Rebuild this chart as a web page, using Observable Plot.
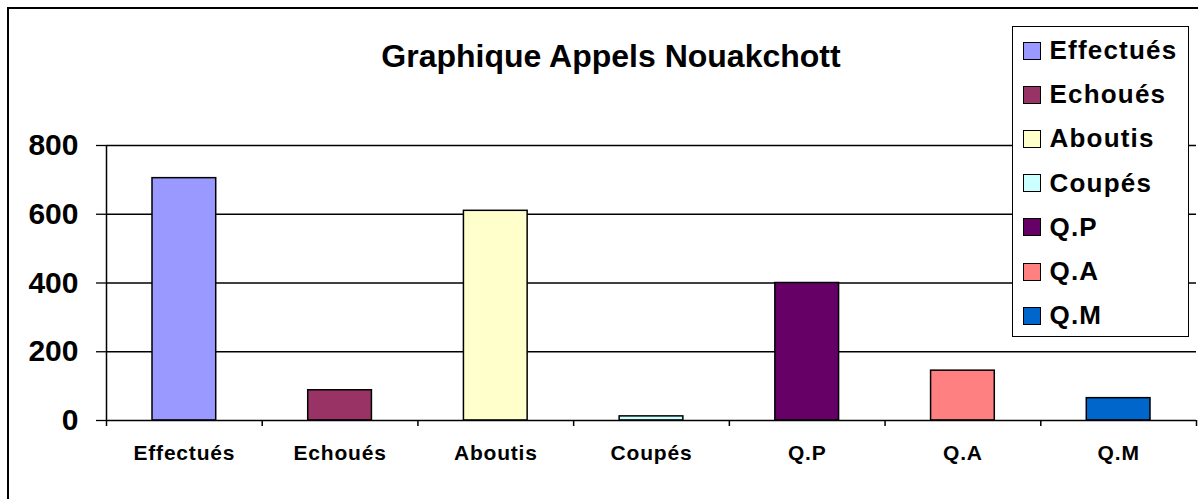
<!DOCTYPE html>
<html>
<head>
<meta charset="utf-8">
<script src="https://cdn.jsdelivr.net/npm/d3@7"></script>
<script src="https://cdn.jsdelivr.net/npm/@observablehq/plot@0.6"></script>
<style>
  html, body { margin: 0; padding: 0; background: #fff; }
  #wrap { position: relative; width: 1198px; height: 499px; overflow: hidden; font-family: "Liberation Sans", Arial, sans-serif; }
  #chart { position: absolute; left: 0; top: 0; }
  #frame { position: absolute; left: 7px; top: 7px; width: 1300px; height: 600px; border-left: 2.5px solid #000; border-top: 2.5px solid #000; box-sizing: border-box; pointer-events: none; }
  #title { position: absolute; left: 311px; width: 600px; top: 40px; text-align: center; font-size: 32px; line-height: 32px; font-weight: bold; color: #000; }
  #legend { position: absolute; left: 1012px; top: 26px; width: 177px; height: 311px; box-sizing: border-box; border: 1.5px solid #000; background: #fff; padding-top: 1.5px; }
  .item { height: 44.2px; display: flex; align-items: center; }
  .sw { width: 18px; height: 18px; box-sizing: border-box; border: 1.5px solid #000; margin-left: 9.5px; margin-right: 9px; flex: none; }
  .lab { font-size: 26px; letter-spacing: 1.2px; font-weight: bold; color: #000; white-space: nowrap; }
  .xlab text { letter-spacing: 0.8px; }
</style>
</head>
<body>
<div id="wrap">
  <div id="chart"></div>
  <div id="frame"></div>
  <div id="title">Graphique Appels Nouakchott</div>
  <div id="legend"></div>
</div>
<script>
const categories = ["Effectués", "Echoués", "Aboutis", "Coupés", "Q.P", "Q.A", "Q.M"];
const values = [705, 88, 610, 12, 400, 145, 65];
const colors = ["#9999FF", "#993366", "#FFFFCC", "#CCFFFF", "#660066", "#FF8080", "#0066CC"];
const yTicks = [0, 200, 400, 600, 800];

const table = categories.map((c, i) => ({cat: c, i, v: values[i], color: colors[i]}));

const plot = Plot.plot({
  width: 1198,
  height: 499,
  marginTop: 145,
  marginBottom: 79,
  marginLeft: 106,
  marginRight: 2,
  style: {fontFamily: '"Liberation Sans", Arial, sans-serif', background: "transparent", color: "#000"},
  x: {type: "linear", domain: [0, categories.length], label: null},
  y: {domain: [0, 800], label: null},
  marks: [
    Plot.gridY(yTicks.slice(1), {stroke: "#000", strokeOpacity: 1, strokeWidth: 1.3}),
    Plot.rectY(table, {x1: "i", x2: d => d.i + 1, y: "v", fill: "color", stroke: "#000", strokeWidth: 1.5, insetLeft: 46, insetRight: 46}),
    Plot.ruleY([0], {stroke: "#000", strokeWidth: 1.5}),
    Plot.ruleX([0], {stroke: "#000", strokeWidth: 1.5}),
    Plot.axisY({ticks: yTicks, tickSize: 10, tickPadding: 18, fontSize: 30, fontWeight: "bold", strokeWidth: 1.3, label: null}),
    Plot.axisX({ticks: d3.range(categories.length + 1), tickSize: 6, tickFormat: () => "", strokeWidth: 1.5, label: null}),
    Plot.axisX({ticks: categories.map((c, i) => i + 0.5), tickSize: 0, tickPadding: 25, tickFormat: t => categories[Math.floor(t)], fontSize: 21, fontWeight: "bold", label: null, className: "xlab"})
  ]
});
document.getElementById("chart").appendChild(plot);

const legend = document.getElementById("legend");
categories.forEach((c, i) => {
  const it = document.createElement("div");
  it.className = "item";
  const sw = document.createElement("div");
  sw.className = "sw";
  sw.style.background = colors[i];
  const lab = document.createElement("span");
  lab.className = "lab";
  lab.textContent = c;
  it.appendChild(sw);
  it.appendChild(lab);
  legend.appendChild(it);
});
</script>
</body>
</html>
